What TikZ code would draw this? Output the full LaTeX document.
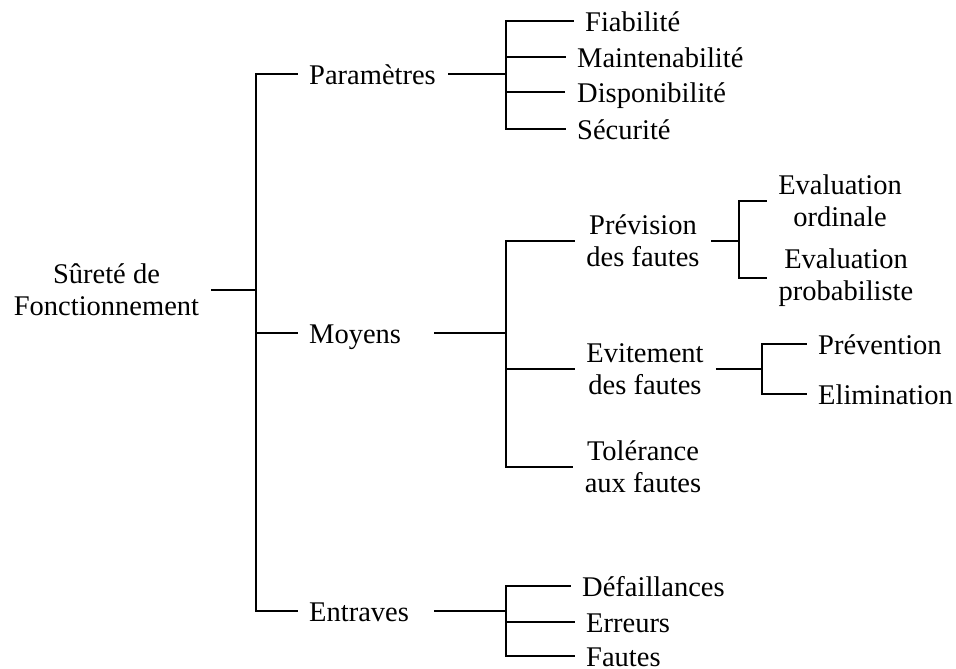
\documentclass[tikz,border=0pt]{standalone}
\usepackage{fontspec}
\setmainfont{Liberation Serif}
\begin{document}
\begin{tikzpicture}[x=1pt,y=-1pt,
  font=\fontsize{28.5}{32}\selectfont,
  lbl/.style={inner xsep=12pt, inner ysep=0pt, text height=21pt, text depth=0pt, anchor=west},
  blk/.style={inner xsep=12pt, inner ysep=0pt, align=center},
  ln/.style={line width=1.1pt, line cap=rect},
  thk/.style={line width=1.6pt}]
\path[use as bounding box] (0,0) rectangle (956,669);

% nodes
\node[blk] (root) at (106.5,290) {Sûreté de\\Fonctionnement};
\node[lbl] (param) at (297,74) {Paramètres};
\node[lbl] (moyens) at (297,333) {Moyens};
\node[lbl] (entr) at (297,611) {Entraves};

\node[lbl] (fiab) at (573,21) {Fiabilité};
\node[lbl] (maint) at (565,57) {Maintenabilité};
\node[lbl] (dispo) at (565,92) {Disponibilité};
\node[lbl] (secu) at (565,129) {Sécurité};

\node[blk] (prev) at (643,241) {Prévision\\des fautes};
\node[blk] (evit) at (645,369) {Evitement\\des fautes};
\node[blk] (tol) at (643,467) {Tolérance\\aux fautes};

\node[blk] (evo) at (840,201) {Evaluation\\ordinale};
\node[blk] (evp) at (846,278) {Evaluation\\probabiliste};

\node[lbl] (prevn) at (806,344) {Prévention};
\node[lbl] (elim) at (806,394) {Elimination};

\node[lbl] (defa) at (570,586) {Défaillances};
\node[lbl] (err) at (574,622) {Erreurs};
\node[lbl] (faut) at (574,656) {Fautes};

% junction coordinates
\coordinate (rb) at (256,290);
\coordinate (pout) at (448,74);
\coordinate (pb) at (506,74);
\coordinate (mout) at (435,333);
\coordinate (mb) at (506,333);
\coordinate (eout) at (435,611);
\coordinate (eb) at (506,611);
\coordinate (pvb) at (739,241);
\coordinate (evb) at (762,369);

% root
\draw[thk] (root.east) -- (rb);
\draw[ln] (param.west) -- (param.west -| rb) -- (entr.west -| rb) -- (entr.west);
\draw[ln] (moyens.west) -- (moyens.west -| rb);

% parametres
\draw[thk] (pout) -- (pb);
\draw[ln] (fiab.west) -- (fiab.west -| pb) -- (secu.west -| pb) -- (secu.west);
\draw[ln] (maint.west) -- (maint.west -| pb);
\draw[thk] (dispo.west) -- (dispo.west -| pb);
\draw[thk] (pb) -- (dispo.west -| pb);

% moyens
\draw[ln] (mout) -- (mb);
\draw[ln] (prev.west) -- (prev.west -| mb) -- (tol.west -| mb) -- (tol.west);
\draw[ln] (evit.west) -- (evit.west -| mb);

% prevision
\draw[ln] (prev.east) -- (pvb);
\draw[ln] (evo.west) -- (evo.west -| pvb) -- (evp.west -| pvb) -- (evp.west);

% evitement
\draw[thk] (evit.east) -- (evb);
\draw[ln] (prevn.west) -- (prevn.west -| evb) -- (elim.west -| evb) -- (elim.west);

% entraves
\draw[ln] (eout) -- (eb);
\draw[ln] (defa.west) -- (defa.west -| eb) -- (faut.west -| eb) -- (faut.west);
\draw[ln] (err.west) -- (err.west -| eb);
\end{tikzpicture}
\end{document}
